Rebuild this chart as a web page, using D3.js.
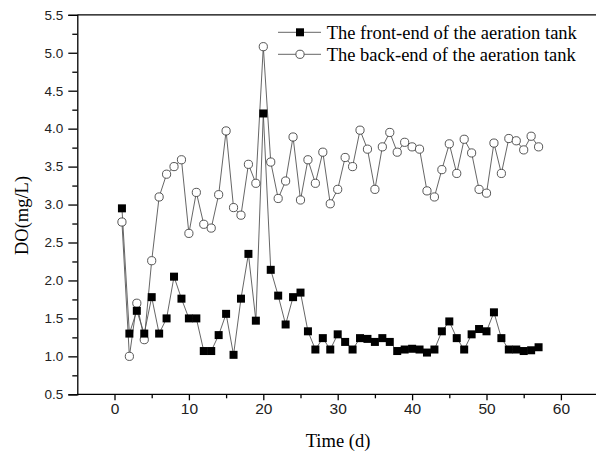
<!DOCTYPE html>
<html><head><meta charset="utf-8">
<script src="https://cdn.jsdelivr.net/npm/d3@7"></script>
<style>body{margin:0;background:#fff}svg{display:block}</style>
</head><body>
<svg id="c" width="596" height="453"></svg>
<script>
const days = d3.range(1, 58);
const frontEnd = [2.95,1.30,1.60,1.30,1.78,1.30,1.50,2.05,1.76,1.50,
  1.50,1.07,1.07,1.28,1.56,1.02,1.76,2.35,1.47,4.20,
  2.14,1.80,1.42,1.78,1.84,1.33,1.09,1.24,1.09,1.29,
  1.19,1.09,1.24,1.23,1.19,1.24,1.19,1.07,1.09,1.10,
  1.09,1.05,1.09,1.33,1.46,1.24,1.09,1.29,1.36,1.33,
  1.58,1.24,1.09,1.09,1.07,1.08,1.12];
const backEnd = [2.77,1.00,1.70,1.22,2.26,3.10,3.40,3.50,3.59,2.62,
  3.16,2.74,2.69,3.13,3.97,2.96,2.86,3.53,3.28,5.08,
  3.56,3.08,3.31,3.89,3.06,3.59,3.28,3.69,3.01,3.20,
  3.62,3.50,3.98,3.73,3.20,3.76,3.95,3.69,3.82,3.76,
  3.73,3.18,3.10,3.46,3.80,3.41,3.86,3.68,3.20,3.15,
  3.81,3.41,3.87,3.84,3.72,3.90,3.76];
const seriesNames = ["The front-end of the aeration tank", "The back-end of the aeration tank"];
const xTicks = [0,10,20,30,40,50,60];
const xMinor = [5,15,25,35,45,55];
const yTicks = [0.5,1.0,1.5,2.0,2.5,3.0,3.5,4.0,4.5,5.0,5.5];
const yMinor = [0.75,1.25,1.75,2.25,2.75,3.25,3.75,4.25,4.75,5.25];
const xTitle = "Time (d)";
const yTitle = "DO(mg/L)";

const svg = d3.select("#c");
const x = d3.scaleLinear().domain([-5, 65]).range([77.3, 598.1]);
const y = d3.scaleLinear().domain([0.5, 5.5]).range([394.3, 14.8]);

const sans = "'Liberation Sans', Arial, sans-serif";
const serif = "'Liberation Serif', 'Times New Roman', serif";

// frame: top line
svg.append("line").attr("x1", x(-5)).attr("x2", 596).attr("y1", y(5.5)).attr("y2", y(5.5))
  .attr("stroke", "#000").attr("stroke-width", 1.3);

// axes
const gx = svg.append("g").attr("transform", `translate(0,${y(0.5)})`);
gx.call(d3.axisBottom(x).tickValues(xTicks).tickSize(6).tickPadding(3).tickFormat(d3.format("d")));
const gxm = svg.append("g").attr("transform", `translate(0,${y(0.5)})`);
gxm.call(d3.axisBottom(x).tickValues(xMinor).tickSize(4).tickFormat(""));
gxm.select(".domain").remove();
gx.select(".domain").attr("d", `M${x(-5)},0H596`);

const gy = svg.append("g").attr("transform", `translate(${x(-5)},0)`);
gy.call(d3.axisLeft(y).tickValues(yTicks).tickSize(9).tickPadding(5).tickFormat(d3.format(".1f")));
const gym = svg.append("g").attr("transform", `translate(${x(-5)},0)`);
gym.call(d3.axisLeft(y).tickValues(yMinor).tickSize(5).tickFormat(""));
gym.select(".domain").remove();

[gx, gxm, gy, gym].forEach(g => {
  g.selectAll("path,line").attr("stroke", "#000").attr("stroke-width", 1.3);
});
gx.selectAll("text").attr("font-family", sans).attr("font-size", 15.5).attr("fill", "#222");
gy.selectAll("text").attr("font-family", sans).attr("font-size", 13.5).attr("fill", "#222");

// titles
svg.append("text").attr("x", 338).attr("y", 447).attr("text-anchor", "middle")
  .attr("font-family", serif).attr("font-size", 18.5).attr("fill", "#000").text(xTitle);
svg.append("text").attr("transform", "translate(27.5,215.5) rotate(-90)").attr("text-anchor", "middle")
  .attr("font-family", serif).attr("font-size", 18.5).attr("fill", "#000").text(yTitle);

// lines
const line = d3.line().x((d, i) => x(days[i])).y(d => y(d));
svg.append("path").datum(backEnd).attr("d", line).attr("fill", "none").attr("stroke", "#555").attr("stroke-width", 0.9);
svg.append("path").datum(frontEnd).attr("d", line).attr("fill", "none").attr("stroke", "#555").attr("stroke-width", 0.9);

svg.append("g").selectAll("circle").data(backEnd).join("circle")
  .attr("cx", (d, i) => x(days[i])).attr("cy", d => y(d)).attr("r", 4.1)
  .attr("fill", "#fff").attr("stroke", "#444").attr("stroke-width", 0.9);
svg.append("g").selectAll("rect").data(frontEnd).join("rect")
  .attr("x", (d, i) => x(days[i]) - 4).attr("y", d => y(d) - 4).attr("width", 8).attr("height", 8)
  .attr("fill", "#000");

// legend
const leg = svg.append("g");
[0, 1].forEach(k => {
  const ly = k === 0 ? 32.3 : 54.3;
  leg.append("line").attr("x1", 278).attr("x2", 321).attr("y1", ly).attr("y2", ly)
    .attr("stroke", "#555").attr("stroke-width", 0.9);
  if (k === 0) {
    leg.append("rect").attr("x", 296).attr("y", ly - 4).attr("width", 8).attr("height", 8).attr("fill", "#000");
  } else {
    leg.append("circle").attr("cx", 300).attr("cy", ly).attr("r", 4.1).attr("fill", "#fff")
      .attr("stroke", "#444").attr("stroke-width", 0.9);
  }
  leg.append("text").attr("x", 326.7).attr("y", ly + 6.2).attr("font-family", serif)
    .attr("font-size", 18.5).attr("fill", "#000").text(seriesNames[k]);
});
</script>
</body></html>
